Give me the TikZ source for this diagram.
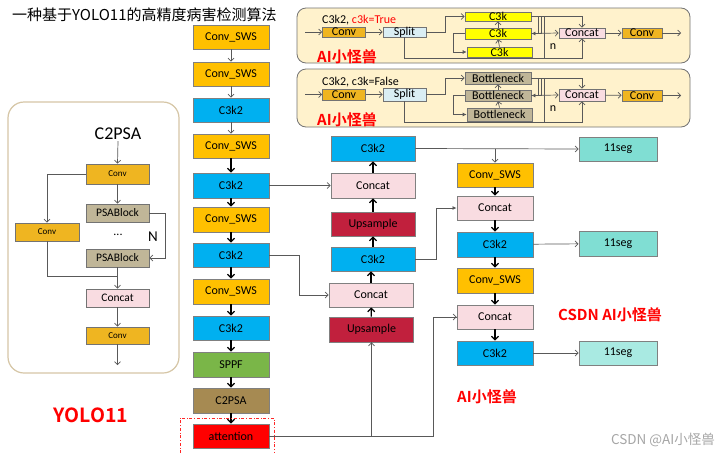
\documentclass[tikz,border=0pt]{standalone}
\usepackage{fontspec}
\setmainfont{Carlito}
\newfontfamily\cjk{Noto Sans CJK SC}
\newfontfamily\cjkb{Noto Sans CJK SC Bold}
\usetikzlibrary{arrows.meta,calc}
\definecolor{cSWS}{HTML}{FFC000}
\definecolor{cCthree}{HTML}{00B0F0}
\definecolor{cSPPF}{HTML}{7AB648}
\definecolor{cPSA}{HTML}{A68A52}
\definecolor{cCat}{HTML}{F9DCE1}
\definecolor{cUp}{HTML}{C1203D}
\definecolor{cSegA}{HTML}{80DED3}
\definecolor{cSegB}{HTML}{A9EAE2}
\definecolor{cPanel}{HTML}{FFF2CC}
\definecolor{cGold}{HTML}{EFB521}
\definecolor{cSplit}{HTML}{DAEEF4}
\definecolor{cYel}{HTML}{FFFF00}
\definecolor{cBot}{HTML}{C0B698}
\definecolor{cFrame}{HTML}{D6C6A6}
\definecolor{cLine}{HTML}{595959}
\tikzset{
  box/.style={draw=black!50, line width=0.9pt, minimum width=76pt, minimum height=24pt, inner sep=0pt, font=\fontsize{12}{12}\selectfont},
  pbox/.style={draw=black!55, line width=0.7pt, inner sep=0pt, font=\fontsize{12}{12}\selectfont},
  lbox/.style={draw=black!55, line width=0.7pt, inner sep=0pt, minimum width=63pt, minimum height=18pt},
  arr/.style={-{Straight Barb[length=3.5pt,width=7pt]}, line width=1.2pt, black},
  garr/.style={-{Straight Barb[length=3pt,width=6pt]}, line width=0.7pt, cLine},
  thinl/.style={line width=0.7pt, cLine},
  farr/.style={-{Latex[length=4pt,width=4pt]}, line width=0.7pt, cLine},
  redlbl/.style={text=red, font=\cjkb\fontsize{15}{15}\selectfont, inner sep=0pt}
}
\begin{document}
\begin{tikzpicture}[x=1pt,y=-1pt]
\useasboundingbox (0,0) rectangle (720,453);
\fill[white] (0,0) rectangle (720,453);

% title
\node[anchor=west, font=\cjk\fontsize{15}{15}\selectfont, inner sep=0pt] (title) at (12,15) {一种基于YOLO11的高精度病害检测算法};

% ===== Panel 1 =====
\draw[draw=black!55, fill=cPanel, rounded corners=9pt, line width=0.8pt] (297,8) rectangle (690,63);
\node[anchor=west, font=\fontsize{12}{12}\selectfont, inner sep=0pt] (p1lbl) at (322,20) {C3k2, \textcolor{red}{c3k=True}};
\coordinate (p1in) at (305,32);
\coordinate (p1out) at (681,33);
\node[pbox, fill=cGold, minimum width=43pt, minimum height=10pt] (p1conv) at (344,32) {Conv};
\node[pbox, fill=cSplit, minimum width=43pt, minimum height=10pt] (p1split) at (404.5,32) {Split};
\node[pbox, fill=cYel, minimum width=66pt, minimum height=9pt] (p1k1) at (498,16.5) {C3k};
\node[pbox, fill=cYel, minimum width=66pt, minimum height=11pt] (p1k2) at (498,33.5) {C3k};
\node[pbox, fill=cYel, minimum width=65pt, minimum height=10pt] (p1k3) at (499.5,52) {C3k};
\node[pbox, fill=cCat, minimum width=46pt, minimum height=10pt] (p1cat) at (582,33) {Concat};
\node[pbox, fill=cGold, minimum width=40pt, minimum height=10pt] (p1conv2) at (642,33) {Conv};
\node[font=\fontsize{12}{12}\selectfont, inner sep=0pt] (p1n) at (553,47) {n};
\draw[garr] (p1in) -- (p1conv);
\draw[garr] (p1conv) -- (p1split);
\draw[garr] (p1split.east) -- (445,32) |- (p1k1.west);
\draw[garr] (p1k3.north) -- (p1k2.south);
\draw[garr] (p1k2.north) -- (p1k1.south);
\draw[farr] (p1k2.west) -- (453,33.5) |- (p1k3.west);
\draw[garr] (p1k1.east) -| (p1cat.north);
\draw[thinl] (538,16.5) -- (538,33.5);
\draw[farr] (541,16.5) -- (541,33.5) -- (p1k2.east);
\draw[thinl] (544,16.5) -- (544,58);
\draw[garr] (p1k2.east) -- (p1cat.west);
\draw[garr] (p1split.south) -- ++(0,21) -| (p1cat.south);
\draw[garr] (p1cat) -- (p1conv2);
\draw[garr] (p1conv2) -- (p1out);
\node[redlbl] (p1ai) at (347,57) {AI小怪兽};

% ===== Panel 2 =====
\draw[draw=black!55, fill=cPanel, rounded corners=9pt, line width=0.8pt] (297,69) rectangle (690,127);
\node[anchor=west, font=\fontsize{12}{12}\selectfont, inner sep=0pt] (p2lbl) at (322,82) {C3k2, c3k=False};
\coordinate (p2in) at (305,94.5);
\coordinate (p2out) at (681,95.5);
\node[pbox, fill=cGold, minimum width=43pt, minimum height=11pt] (p2conv) at (344,94.5) {Conv};
\node[pbox, fill=cSplit, minimum width=43pt, minimum height=13pt] (p2split) at (404.5,94.5) {Split};
\node[pbox, fill=cBot, minimum width=66pt, minimum height=12pt] (p2k1) at (498,78) {Bottleneck};
\node[pbox, fill=cBot, minimum width=66pt, minimum height=11pt] (p2k2) at (498,95.5) {Bottleneck};
\node[pbox, fill=cBot, minimum width=65pt, minimum height=13pt] (p2k3) at (499.5,114.5) {Bottleneck};
\node[pbox, fill=cCat, minimum width=46pt, minimum height=12pt] (p2cat) at (582,95) {Concat};
\node[pbox, fill=cGold, minimum width=40pt, minimum height=11pt] (p2conv2) at (642,95.5) {Conv};
\node[font=\fontsize{12}{12}\selectfont, inner sep=0pt] (p2n) at (553,109) {n};
\draw[garr] (p2in) -- (p2conv);
\draw[garr] (p2conv) -- (p2split);
\draw[garr] (p2split.east) -- (445,94.5) |- (p2k1.west);
\draw[garr] (p2k3.north) -- (p2k2.south);
\draw[garr] (p2k2.north) -- (p2k1.south);
\draw[farr] (p2k2.west) -- (453,95.5) |- (p2k3.west);
\draw[garr] (p2k1.east) -| (p2cat.north);
\draw[thinl] (538,78) -- (538,95.5);
\draw[farr] (541,78) -- (541,95.5) -- (p2k2.east);
\draw[thinl] (544,78) -- (544,122);
\draw[garr] (p2k2.east) -- (p2cat.west);
\draw[garr] (p2split.south) -- (404.5,122) -| (p2cat.south);
\draw[garr] (p2cat) -- (p2conv2);
\draw[garr] (p2conv2) -- (p2out);
\node[redlbl] (p2ai) at (347,120) {AI小怪兽};

% ===== Left C2PSA panel =====
\draw[draw=cFrame, line width=1.2pt, rounded corners=16pt] (8,102) rectangle (179,373);
\node[font=\fontsize{18}{18}\selectfont, inner sep=1pt] (lt) at (118,134) {C2PSA};
\node[lbox, fill=cGold, minimum height=20pt, font=\fontsize{9}{9}\selectfont] (lconv1) at (117.5,174) {Conv};
\node[lbox, fill=cBot, font=\fontsize{11.5}{11.5}\selectfont] (lpsa1) at (117.5,213) {PSABlock};
\node[font=\fontsize{12}{12}\selectfont, inner sep=0pt] (ldots) at (118,235) {...};
\node[font=\fontsize{15}{15}\selectfont, inner sep=0pt] (lN) at (153,237) {N};
\node[lbox, fill=cBot, font=\fontsize{11.5}{11.5}\selectfont] (lpsa2) at (117.5,258) {PSABlock};
\node[lbox, fill=cGold, minimum width=64pt, font=\fontsize{9}{9}\selectfont] (lconv2) at (47,232) {Conv};
\node[lbox, fill=cCat, font=\fontsize{11.5}{11.5}\selectfont] (lcat) at (117.5,298) {Concat};
\node[lbox, fill=cGold, minimum height=17pt, font=\fontsize{9}{9}\selectfont] (lconv3) at (117.5,335.5) {Conv};
\coordinate (lout) at (117.5,365);
\draw[garr] (lt.south) -- (lconv1.north);
\draw[garr] (lconv1) -- (lpsa1);
\draw[garr] (lpsa1.east) -- (165,213) |- (lpsa2.east);
\draw[garr] (lconv1.west) -| (lconv2.north);
\draw[thinl] (lconv2.south) |- ($(lcat.north)+(0,-12)$);
\draw[garr] (lpsa2.south) -- (lcat.north);
\draw[garr] (lcat) -- (lconv3);
\draw[garr] (lconv3) -- (lout);
\node[text=red, font=\cjkb\fontsize{19.5}{19.5}\selectfont, inner sep=0pt] (yolo) at (91,415) {YOLO11};

% ===== Backbone =====
\node[box, fill=cSWS] (b1) at (231,37) {Conv\_SWS};
\node[box, fill=cSWS] (b2) at (231,74) {Conv\_SWS};
\node[box, fill=cCthree] (b3) at (231,110) {C3k2};
\node[box, fill=cSWS] (b4) at (231,146) {Conv\_SWS};
\node[box, fill=cCthree, minimum height=25pt] (b5) at (231,185.5) {C3k2};
\node[box, fill=cSWS, minimum height=25pt] (b6) at (231,219.5) {Conv\_SWS};
\node[box, fill=cCthree] (b7) at (231,255) {C3k2};
\node[box, fill=cSWS, minimum height=25pt] (b8) at (231,291.5) {Conv\_SWS};
\node[box, fill=cCthree] (b9) at (231,328) {C3k2};
\node[box, fill=cSPPF, minimum height=25pt] (b10) at (231,364.5) {SPPF};
\node[box, fill=cPSA, minimum height=25pt] (b11) at (231,400.5) {C2PSA};
\node[box, fill=red] (b12) at (231,436) {attention};
\draw[garr] (b1) -- (b2);
\draw[garr] (b2) -- (b3);
\draw[garr] (b3) -- (b4);
\draw[arr] (b4) -- (b5);
\draw[arr] (b5) -- (b6);
\draw[arr] (b6) -- (b7);
\draw[arr] (b7) -- (b8);
\draw[arr] (b8) -- (b9);
\draw[arr] (b9) -- (b10);
\draw[arr] (b10) -- (b11);
\draw[arr] (b11) -- (b12);
\draw[red!85, dash dot, line width=0.6pt] (180,453) -- (180,418) -- (274,418) -- (274,453);

% ===== Middle column =====
\node[box, fill=cCthree, minimum width=84pt, minimum height=25pt] (m1) at (373,148.5) {C3k2};
\node[box, fill=cCat, minimum width=84pt, minimum height=25pt] (m2) at (373,185.5) {Concat};
\node[box, fill=cUp, minimum width=84pt] (m3) at (373,224) {Upsample};
\node[box, fill=cCthree, minimum width=84pt] (m4) at (373,259) {C3k2};
\node[box, fill=cCat, minimum width=84pt] (m5) at (371,295) {Concat};
\node[box, fill=cUp, minimum width=84pt, minimum height=25pt] (m6) at (371.5,329.5) {Upsample};
\draw[arr] (m6) -- (m5);
\draw[arr] (m5.north) -- (m5.north |- m4.south);
\draw[arr] (m4) -- (m3);
\draw[arr] (m3) -- (m2);
\draw[arr] (m2) -- (m1);

% ===== Right column =====
\node[box, fill=cSWS] (r1) at (495,175) {Conv\_SWS};
\node[box, fill=cCat] (r2) at (495,208) {Concat};
\node[box, fill=cCthree, minimum height=25pt] (r3) at (495,244.5) {C3k2};
\node[box, fill=cSWS, minimum height=25pt] (r4) at (495,280.5) {Conv\_SWS};
\node[box, fill=cCat] (r5) at (495,317) {Concat};
\node[box, fill=cCthree] (r6) at (495,353) {C3k2};
\node[box, fill=cSegA, minimum width=78pt] (s1) at (618,149) {11seg};
\node[box, fill=cSegA, minimum width=78pt, minimum height=25pt] (s2) at (618,243.5) {11seg};
\node[box, fill=cSegB, minimum width=78pt] (s3) at (618,353) {11seg};
\draw[arr] (r1) -- (r2);
\draw[arr] (r2) -- (r3);
\draw[arr] (r3) -- (r4);
\draw[arr] (r4) -- (r5);
\draw[arr] (r5) -- (r6);

% ===== cross connectors =====
\draw[garr] (b5) -- (m2);
\draw[garr] (b7.east) -- (299,255) |- (m5.west);
\draw[thinl] (b12.east) -- (433,436) |- (r5.west);
\draw[garr] (433,317) -- (r5.west);
\draw[thinl] (m6.south |- b12.east) -- (m6.south);
\draw[garr] ($(m6.south)+(0,8)$) -- (m6.south);
\draw[garr] (m1.east) -- (s1.west);
\draw[garr] (r1.north |- m1.east) -- (r1.north);
\draw[farr] (m4.east) -- (436,259) |- (r2.west);
\draw[garr] (r3) -- (s2);
\draw[garr] (r6) -- (s3);

% ===== labels =====
\node[redlbl] (csdnai) at (610,315) {CSDN AI小怪兽};
\node[redlbl] (ai3) at (487,397) {AI小怪兽};
\node[text=black!35, font=\cjk\fontsize{13.5}{13.5}\selectfont, inner sep=0pt] (wm) at (663,440) {CSDN @AI小怪兽};
\end{tikzpicture}
\end{document}
